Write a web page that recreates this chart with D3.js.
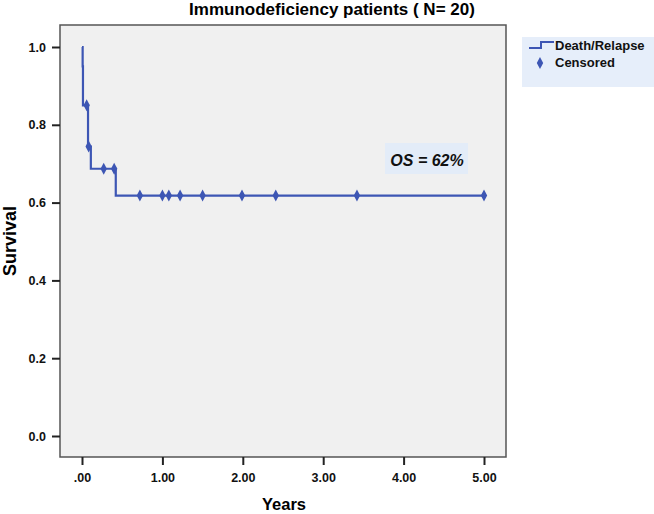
<!DOCTYPE html>
<html><head><meta charset="utf-8">
<script src="https://cdn.jsdelivr.net/npm/d3@7"></script>
<style>body{margin:0;background:#fff}svg{display:block;font-family:Arial,"Liberation Sans",sans-serif}</style>
</head><body>
<svg id="c" width="654" height="514"></svg>
<script>
// Data
const stepTimes = [0, 0.008, 0.012, 0.075, 0.11, 0.42, 5.0];
const stepSurv  = [1.0, 0.95, 0.85, 0.744, 0.687, 0.618, 0.618];
const censorTimes = [0.058, 0.083, 0.27, 0.40, 0.72, 1.00, 1.08, 1.22, 1.50, 1.99, 2.41, 3.42, 5.00];
const censorSurv  = [0.85, 0.744, 0.687, 0.687, 0.618, 0.618, 0.618, 0.618, 0.618, 0.618, 0.618, 0.618, 0.618];
const xTicks = [0, 1, 2, 3, 4, 5];
const yTicks = [0, 0.2, 0.4, 0.6, 0.8, 1.0];
const title = "Immunodeficiency patients ( N= 20)";
const legendLabels = ["Death/Relapse", "Censored"];
const annotation = "OS = 62%";

const svg = d3.select("#c");
const lineColor = "#3d56b4";
const plot = {left: 60, right: 506, top: 25, bottom: 457};
const x = d3.scaleLinear().domain([0, 5]).range([82, 484]);
const y = d3.scaleLinear().domain([0, 1]).range([436, 47]);

// title
svg.append("text").attr("x", 332).attr("y", 15).attr("text-anchor", "middle")
  .attr("font-size", 17).attr("font-weight", "bold").text(title);

// plot bg
svg.append("rect").attr("x", plot.left).attr("y", plot.top)
  .attr("width", plot.right - plot.left).attr("height", plot.bottom - plot.top)
  .attr("fill", "#f0f0f0").attr("stroke", "#555").attr("stroke-width", 1.5);

// axes
const yAxis = d3.axisLeft(y).tickValues(yTicks).tickFormat(d3.format(".1f")).tickSize(8).tickPadding(6);
const gy = svg.append("g").attr("transform", `translate(${plot.left},0)`).call(yAxis);
gy.select(".domain").remove();
gy.selectAll(".tick line").attr("stroke", "#222").attr("stroke-width", 2);
gy.selectAll(".tick text").attr("font-size", 12.5).attr("font-weight", "bold").attr("fill", "#111")
  .attr("font-family", "Arial, 'Liberation Sans', sans-serif");

const xAxis = d3.axisBottom(x).tickValues(xTicks)
  .tickFormat(d => d === 0 ? ".00" : d3.format(".2f")(d)).tickSize(8).tickPadding(8);
const gx = svg.append("g").attr("transform", `translate(0,${plot.bottom})`).call(xAxis);
gx.select(".domain").remove();
gx.selectAll(".tick line").attr("stroke", "#222").attr("stroke-width", 2);
gx.selectAll(".tick text").attr("font-size", 12.5).attr("font-weight", "bold").attr("fill", "#111")
  .attr("font-family", "Arial, 'Liberation Sans', sans-serif");

// axis titles
svg.append("text").attr("x", 284).attr("y", 510).attr("text-anchor", "middle")
  .attr("font-size", 16.5).attr("font-weight", "bold").text("Years");
svg.append("text").attr("transform", "translate(16,241) rotate(-90)").attr("text-anchor", "middle")
  .attr("font-size", 18).attr("font-weight", "bold").text("Survival");

// step curve
const pts = stepTimes.map((t, i) => [t, stepSurv[i]]);
const line = d3.line().x(d => x(d[0])).y(d => y(d[1])).curve(d3.curveStepAfter);
svg.append("path").datum(pts).attr("d", line).attr("fill", "none")
  .attr("stroke", lineColor).attr("stroke-width", 2.2);

// censor marks
const diamond = (cx, cy) => `M${cx},${cy-6}L${cx+3.2},${cy}L${cx},${cy+6}L${cx-3.2},${cy}Z`;
svg.append("g").selectAll("path").data(censorTimes.map((t, i) => [t, censorSurv[i]]))
  .join("path").attr("d", d => diamond(x(d[0]), y(d[1]))).attr("fill", lineColor);

// annotation
svg.append("rect").attr("x", 385).attr("y", 143).attr("width", 83).attr("height", 31).attr("fill", "#e3ecf8");
svg.append("text").attr("x", 427).attr("y", 166).attr("text-anchor", "middle")
  .attr("font-size", 16).attr("font-weight", "bold").attr("font-style", "italic").attr("fill", "#111").text(annotation);

// legend
const lg = svg.append("g");
lg.append("rect").attr("x", 522).attr("y", 37).attr("width", 132).attr("height", 50).attr("fill", "#e6eefa");
lg.append("path").attr("d", "M529,48H541V42H554").attr("fill", "none").attr("stroke", lineColor).attr("stroke-width", 2);
lg.append("path").attr("d", diamond(540, 63)).attr("fill", lineColor);
lg.append("text").attr("x", 555).attr("y", 50).attr("font-size", 13).attr("font-weight", "bold").attr("fill", "#111").text(legendLabels[0]);
lg.append("text").attr("x", 555).attr("y", 67).attr("font-size", 13).attr("font-weight", "bold").attr("fill", "#111").text(legendLabels[1]);
</script>
</body></html>
